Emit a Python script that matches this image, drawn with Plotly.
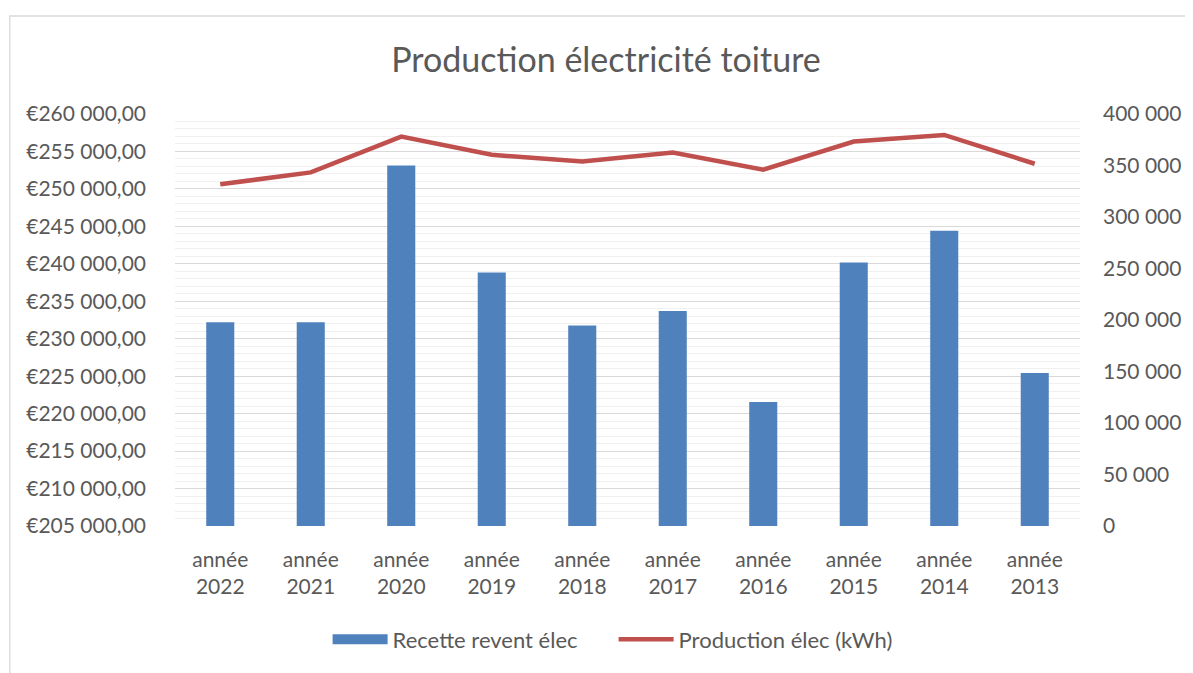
import plotly.graph_objects as go

categories = ["année<br>2022", "année<br>2021", "année<br>2020", "année<br>2019", "année<br>2018",
              "année<br>2017", "année<br>2016", "année<br>2015", "année<br>2014", "année<br>2013"]
recette = [232200, 232200, 253130, 238840, 231750, 233700, 221570, 240160, 244410, 225420]
production = [331700, 343300, 378100, 360400, 353900, 362600, 345900, 373250, 379700, 351700]

OFF = 8  # page body margin
W, H = 1193 - OFF, 673 - OFF
L, R, T, B = 175 - OFF, 106, 114 - OFF, 145
pw, ph = W - L - R, H - T - B

FONT = "Lato"
GREY = "#595959"
BLUE = "#4F81BD"
RED = "#C0504D"

fig = go.Figure()
fig.add_trace(go.Bar(x=categories, y=recette, name="Recette revent élec", showlegend=False,
                     marker=dict(color=BLUE, line=dict(width=0)), width=0.31))
fig.add_trace(go.Scatter(x=[None], y=[None], name="Recette revent élec", mode="lines",
                         line=dict(color=BLUE, width=14), showlegend=True))
fig.add_trace(go.Scatter(x=categories, y=production, name="Production élec (kWh)", yaxis="y2",
                         mode="lines", line=dict(color=RED, width=4.5)))

fig.update_layout(
    width=W, height=H,
    margin=dict(l=L, r=R, t=T, b=B),
    paper_bgcolor="white", plot_bgcolor="white",
    separators=", ",
    font=dict(family=FONT, size=21, color=GREY),
    title=dict(text="Production électricité toiture", x=(606 - OFF) / W, xanchor="center",
               y=1 - (60 - OFF) / H, yanchor="middle", font=dict(size=34, color=GREY, family=FONT)),
    xaxis=dict(showgrid=False, showline=False, ticks="", ticklabelstandoff=19,
               tickfont=dict(size=21, color=GREY)),
    yaxis=dict(range=[205000, 260000], dtick=5000, tickprefix="€", tickformat=",.2f",
               showgrid=True, gridcolor="#D9D9D9", gridwidth=1.3, zeroline=False, showline=False,
               ticks="", ticklabelstandoff=28,
               minor=dict(dtick=1000, showgrid=True, gridcolor="#F0F0F0", gridwidth=1.3),
               tickfont=dict(size=21, color=GREY)),
    yaxis2=dict(range=[0, 400000], dtick=50000, tickformat=",d", overlaying="y", side="right",
                showgrid=False, zeroline=False, showline=False, ticks="", ticklabelstandoff=22,
                tickfont=dict(size=21, color=GREY)),
    legend=dict(orientation="h", x=(617 - L - OFF) / pw, xanchor="center",
                y=-(642 - 528) / ph, yanchor="middle",
                font=dict(size=22, color=GREY), itemwidth=55, traceorder="normal",
                entrywidth=216, entrywidthmode="pixels"),
    bargap=0.69,
    showlegend=True,
)

# Chart outer border
fig.add_shape(type="rect", xref="paper", yref="paper",
              x0=(8.5 - OFF - L) / pw, x1=(1210 - OFF - L) / pw,
              y0=-(720 - 528) / ph, y1=1 + (114 - 15.5) / ph,
              line=dict(color="#D9D9D9", width=1.3), fillcolor="rgba(0,0,0,0)", layer="below")

fig.write_html("out.html")
